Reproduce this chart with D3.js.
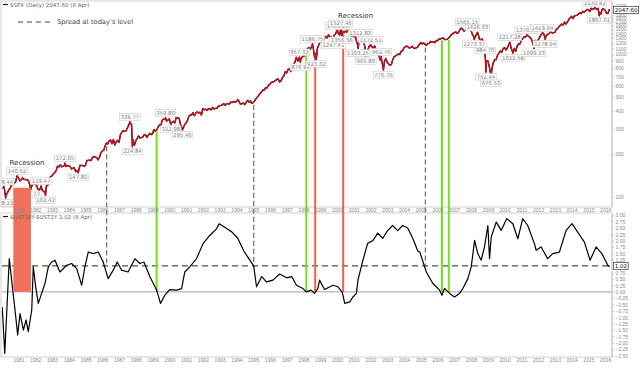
<!DOCTYPE html>
<html>
<head>
<meta charset="utf-8">
<title>SPX and the yield curve</title>
<style>
  body { margin: 0; background: #fff; }
  svg { display: block; font-family: "DejaVu Sans", "Liberation Sans", sans-serif; }
  .frame { fill: none; stroke: #cfcfcf; stroke-width: 1; }
  .axis text { fill: #8a8a8a; font-size: 5px; }
  .axis path, .axis line { stroke: #c8c8c8; }
  .tag rect { fill: #fff; stroke: #c9c9c9; stroke-width: 0.6; }
  .tag text { fill: #7a7a7a; font-size: 5.3px; }
  .legend { fill: #666; font-size: 5.5px; }
  .note { fill: #333; font-size: 7px; }
</style>
</head>
<body>
<svg id="chart" width="640" height="369"></svg>
<script src="https://d3js.org/d3.v7.min.js"></script>
<script>
// S&P 500 month-end closes, starting Jan 1980
var spx1980s = [
  114.16, 113.66, 102.09, 106.29, 111.24, 114.24, 121.67, 122.38, 125.46, 127.47, 140.52, 135.76,
  129.55, 131.27, 136.00, 132.81, 132.59, 131.21, 130.92, 122.79, 116.18, 121.89, 126.35, 122.55,
  120.40, 113.11, 111.96, 116.44, 111.88, 109.61, 107.09, 119.51, 120.42, 133.71, 138.54, 140.64,
  145.30, 148.06, 152.96, 164.42, 162.39, 168.11, 162.56, 164.40, 166.07, 163.55, 166.40, 164.93,
  163.41, 157.06, 159.18, 160.05, 150.55, 153.18, 150.66, 166.68, 166.10, 166.09, 163.58, 167.24,
  179.63, 181.18, 180.66, 179.83, 189.55, 191.85, 190.92, 188.63, 182.08, 189.82, 202.17, 211.28,
  211.78, 226.92, 238.90, 235.52, 247.35, 250.84, 236.12, 252.93, 231.32, 243.98, 249.22, 242.17,
  274.08, 284.20, 291.70, 288.36, 290.10, 304.00, 318.66, 329.80, 321.83, 251.79, 230.30, 247.08,
  257.07, 267.82, 258.89, 261.33, 262.16, 273.50, 272.02, 261.52, 271.91, 278.97, 273.70, 277.72,
  297.47, 288.86, 294.87, 309.64, 320.52, 317.98, 346.08, 351.45, 349.15, 340.36, 345.99, 353.40
];
var spx1990s = [
  329.08, 331.89, 339.94, 330.80, 361.23, 358.02, 356.15, 322.56, 306.05, 304.00, 322.22, 330.22,
  343.93, 367.07, 375.22, 375.34, 389.83, 371.16, 387.81, 395.43, 387.86, 392.46, 375.22, 417.09,
  408.79, 412.70, 403.69, 414.95, 415.35, 408.14, 424.21, 414.03, 417.80, 418.68, 431.35, 435.71,
  438.78, 443.38, 451.67, 440.19, 450.19, 450.53, 448.13, 463.56, 458.93, 467.83, 461.79, 466.45,
  481.61, 467.14, 445.77, 450.91, 456.50, 444.27, 458.26, 475.49, 462.69, 472.35, 453.69, 459.27,
  470.42, 487.39, 500.71, 514.71, 533.40, 544.75, 562.06, 561.88, 584.41, 581.50, 605.37, 615.93,
  636.02, 640.43, 645.50, 654.17, 669.12, 670.63, 639.95, 651.99, 687.31, 705.27, 757.02, 740.74,
  786.16, 790.82, 757.12, 801.34, 848.28, 885.14, 954.29, 899.47, 947.28, 914.62, 955.40, 970.43,
  980.28, 1049.34, 1101.75, 1111.75, 1090.82, 1133.84, 1120.67, 957.28, 1017.01, 1098.67, 1163.63, 1229.23,
  1279.64, 1238.33, 1286.37, 1335.18, 1301.84, 1372.71, 1328.72, 1320.41, 1282.71, 1362.93, 1388.91, 1469.25
];
var spx2000s = [
  1394.46, 1366.42, 1498.58, 1452.43, 1420.60, 1454.60, 1430.83, 1517.68, 1436.51, 1429.40, 1314.95, 1320.28,
  1366.01, 1239.94, 1160.33, 1249.46, 1255.82, 1224.42, 1211.23, 1133.58, 1040.94, 1059.78, 1139.45, 1148.08,
  1130.20, 1106.73, 1147.39, 1076.92, 1067.14, 989.82, 911.62, 916.07, 815.28, 885.76, 936.31, 879.82,
  855.70, 841.15, 848.18, 916.92, 963.59, 974.50, 990.31, 1008.01, 995.97, 1050.71, 1058.20, 1111.92,
  1131.13, 1144.94, 1126.21, 1107.30, 1120.68, 1140.84, 1101.72, 1104.24, 1114.58, 1130.20, 1173.82, 1211.92,
  1181.27, 1203.60, 1180.59, 1156.85, 1191.50, 1191.33, 1234.18, 1220.33, 1228.81, 1207.01, 1249.48, 1248.29,
  1280.08, 1280.66, 1294.83, 1310.61, 1270.09, 1270.20, 1276.66, 1303.82, 1335.85, 1377.94, 1400.63, 1418.30,
  1438.24, 1406.82, 1420.86, 1482.37, 1530.62, 1503.35, 1455.27, 1473.99, 1526.75, 1549.38, 1481.14, 1468.36,
  1378.55, 1330.63, 1322.70, 1385.59, 1400.38, 1280.00, 1267.38, 1282.83, 1166.36, 968.75, 896.24, 903.25,
  825.88, 735.09, 797.87, 872.81, 919.14, 919.32, 987.48, 1020.62, 1057.08, 1036.19, 1095.63, 1115.10
];
var spx2010s = [
  1073.87, 1104.49, 1169.43, 1186.69, 1089.41, 1030.71, 1101.60, 1049.33, 1141.20, 1183.26, 1180.55, 1257.64,
  1286.12, 1327.22, 1325.83, 1363.61, 1345.20, 1320.64, 1292.28, 1218.89, 1131.42, 1253.30, 1246.96, 1257.60,
  1312.41, 1365.68, 1408.47, 1397.91, 1310.33, 1362.16, 1379.32, 1406.58, 1440.67, 1412.16, 1416.18, 1426.19,
  1498.11, 1514.68, 1569.19, 1597.57, 1630.74, 1606.28, 1685.73, 1632.97, 1681.55, 1756.54, 1805.81, 1848.36,
  1782.59, 1859.45, 1872.34, 1883.95, 1923.57, 1960.23, 1930.67, 2003.37, 1972.29, 2018.05, 2067.56, 2058.90,
  1994.99, 2104.50, 2067.89, 2085.51, 2107.39, 2063.11, 2103.84, 1972.18, 1920.03, 2079.36, 2080.41, 2043.94,
  1940.24, 1932.23, 2059.74
];
var spxLastDate = "2016-04-08", spxLast = 2047.60;

// labelled highs (1) and lows (-1)
var spxPivots = [
  ["1980-02-13", 118.44, 1], ["1980-03-27", 98.22, -1], ["1980-11-28", 140.52, 1],
  ["1981-09-25", 112.77, -1], ["1982-05-07", 119.47, 1], ["1982-08-12", 102.42, -1],
  ["1983-10-10", 172.65, 1], ["1984-07-24", 147.82, -1], ["1987-08-25", 336.77, 1],
  ["1987-10-19", 224.84, -1], ["1989-10-09", 359.80, 1], ["1990-01-30", 322.98, -1],
  ["1990-10-11", 295.46, -1], ["1997-10-07", 957.32, 1], ["1997-10-27", 876.99, -1],
  ["1998-07-17", 1186.75, 1], ["1998-10-08", 923.32, -1], ["1999-10-15", 1247.41, -1],
  ["2000-01-14", 1465.15, 1], ["2000-03-24", 1527.46, 1], ["2000-04-14", 1356.56, -1],
  ["2001-04-04", 1103.25, -1], ["2001-05-21", 1312.83, 1], ["2001-09-21", 965.80, -1],
  ["2002-01-04", 1172.51, 1], ["2002-08-22", 962.70, 1], ["2002-10-09", 776.76, -1],
  ["2007-10-09", 1565.15, 1], ["2008-03-10", 1273.37, -1], ["2008-05-19", 1426.63, 1],
  ["2008-11-04", 984.70, 1], ["2008-11-20", 752.44, -1], ["2009-03-09", 676.53, -1],
  ["2010-04-23", 1217.28, 1], ["2010-07-02", 1022.58, -1], ["2011-05-02", 1370.58, 1],
  ["2011-10-03", 1099.23, -1], ["2012-04-02", 1419.04, 1], ["2012-06-01", 1278.04, -1],
  ["2015-05-21", 2130.82, 1], ["2015-08-25", 1867.61, -1]
];

// 10y - 2y treasury spread (fractional years)
var spreadYears = [
  1980.03, 1980.18, 1980.45, 1980.59, 1980.79, 1980.95, 1981.09, 1981.29, 1981.45, 1981.58,
  1981.79, 1981.88, 1982.04, 1982.18, 1982.38, 1982.58, 1982.78, 1982.98, 1983.18, 1983.47,
  1983.87, 1984.17, 1984.47, 1984.77, 1984.96, 1985.16, 1985.46, 1985.76, 1986.05, 1986.35,
  1986.65, 1986.89, 1987.15, 1987.54, 1987.94, 1988.24, 1988.48, 1988.84, 1989.24, 1989.47,
  1989.73, 1990.02, 1990.43, 1990.73, 1990.92, 1991.22, 1991.62, 1992.01, 1992.41, 1992.81,
  1992.97, 1993.37, 1993.72, 1994.08, 1994.44, 1994.74, 1995.03, 1995.20, 1995.51, 1995.79,
  1996.18, 1996.58, 1997.00, 1997.30, 1997.58, 1997.97, 1998.17, 1998.46, 1998.66, 1998.86,
  1998.96, 1999.26, 1999.76, 2000.06, 2000.32, 2000.46, 2000.76, 2000.95, 2001.16, 2001.25,
  2001.53, 2001.83, 2002.13, 2002.43, 2002.73, 2003.02, 2003.32, 2003.62, 2003.92, 2004.22,
  2004.52, 2004.82, 2004.94, 2005.33, 2005.72, 2006.12, 2006.26, 2006.42, 2006.72, 2007.01,
  2007.31, 2007.51, 2007.81, 2008.01, 2008.21, 2008.40, 2008.60, 2008.80, 2009.00, 2009.10,
  2009.20, 2009.50, 2009.80, 2010.13, 2010.49, 2010.79, 2011.08, 2011.38, 2011.78, 2011.88,
  2012.18, 2012.57, 2012.87, 2013.27, 2013.67, 2014.02, 2014.36, 2014.76, 2015.10, 2015.46,
  2015.80, 2016.19, 2016.27
];
var spreadValues = [
  -0.59, -2.41, 1.30, 0.46, -0.71, -1.69, -0.85, -1.50, -1.10, -1.56,
  -0.71, 0.98, 0.13, -0.45, -0.06, 0.33, 0.98, 1.17, 1.24, 0.78,
  1.04, 1.11, 0.91, 0.26, 0.98, 1.56, 1.50, 1.56, 1.17, 0.52,
  0.85, 1.17, 0.85, 0.78, 1.30, 1.11, 1.17, 0.59, 0.07, -0.45,
  -0.13, 0.09, 0.07, 0.13, 0.78, 0.98, 1.30, 1.89, 2.21, 2.47,
  2.67, 2.50, 2.35, 2.10, 1.60, 1.30, 1.02, 0.20, 0.60, 0.39,
  0.46, 0.70, 0.55, 0.60, 0.26, 0.13, 0.00, 0.07, -0.06, 0.13,
  0.46, 0.09, 0.26, 0.20, -0.02, -0.45, -0.39, -0.20, -0.06, 0.46,
  1.20, 1.90, 2.00, 2.30, 2.10, 2.40, 2.60, 2.40, 2.60, 2.50,
  2.10, 1.60, 1.56, 0.78, 0.33, 0.07, -0.13, 0.14, -0.06, -0.20,
  -0.06, 0.13, 0.52, 0.98, 2.02, 1.50, 1.24, 1.76, 2.60, 1.30,
  2.15, 2.73, 2.41, 2.87, 2.67, 2.08, 2.87, 2.60, 1.89, 1.63,
  1.76, 1.30, 1.50, 1.56, 2.41, 2.67, 2.34, 1.95, 1.24, 1.76,
  1.50, 1.00, 1.02
];
var spreadNow = 1.02;

// marked dates (fractional years)
var levelDates = [1986.26, 1995.03, 2005.27];          // spread back at today's level
var greenDates = [1989.24, 1998.17, 2006.26, 2006.67];  // curve flat
var redDates = [1998.70, 2000.37];
var recessionBox = [1980.69, 1981.74, 116];
var recessionNotes = [[1981.51, 175], [2001.11, 1880]];

// tick labels; 2000 and 1.00 sit under the last-value boxes
var spxTicks = [100, 200, 300, 400, 500, 600, 700, 800, 900, 1000,
                1100, 1200, 1300, 1400, 1500, 1600, 1700, 1800, 1900, 2200];
var spreadTicks = [-2.5, -2.25, -2, -1.75, -1.5, -1.25, -1, -0.75, -0.5, -0.25, 0,
                   0.25, 0.5, 0.75, 1.25, 1.5, 1.75, 2, 2.25, 2.5, 2.75, 3];

// panel geometry
var L = 2, R = 612,
    topT = 2, topB = 207,
    botT = 214, botB = 357;

function yearToDate(y) {
  var yr = Math.floor(y),
      d0 = new Date(yr, 0, 1), d1 = new Date(yr + 1, 0, 1);
  return new Date(+d0 + (y - yr) * (d1 - d0));
}
var parse = d3.timeParse("%Y-%m-%d");

// build the price series: month-end closes plus the labelled pivots
var monthly = spx1980s.concat(spx1990s, spx2000s, spx2010s);
var spx = monthly.map(function(v, i) {
  return {date: new Date(1980, i + 1, 0), value: v};
});
spxPivots.forEach(function(p) { spx.push({date: parse(p[0]), value: p[1]}); });
spx.push({date: parse(spxLastDate), value: spxLast});
spx.sort(function(a, b) { return a.date - b.date; });

var spread = spreadYears.map(function(y, i) {
  return {date: yearToDate(y), value: spreadValues[i]};
});

var x = d3.scaleTime()
    .domain([new Date(1980, 0, 7), new Date(2016, 4, 29)])
    .range([L, R]);
var yTop = d3.scaleLog().domain([85, 2330]).range([topB, topT]);
var yBot = d3.scaleLinear().domain([-2.55, 3.05]).range([botB, botT]);

var bisect = d3.bisector(function(d) { return d.date; }).left;
function spxAt(date) {
  var i = bisect(spx, date);
  if (i <= 0) return spx[0].value;
  if (i >= spx.length) return spx[spx.length - 1].value;
  var a = spx[i - 1], b = spx[i], t = (date - a.date) / (b.date - a.date);
  return a.value + t * (b.value - a.value);
}

var svg = d3.select("#chart");
var defs = svg.append("defs");
defs.append("clipPath").attr("id", "clipTop")
  .append("rect").attr("x", L).attr("y", topT).attr("width", R - L).attr("height", topB - topT);
defs.append("clipPath").attr("id", "clipBot")
  .append("rect").attr("x", L).attr("y", botT).attr("width", R - L).attr("height", botB - botT);

// panel frames
svg.append("rect").attr("class", "frame")
    .attr("x", L - 1).attr("y", topT - 1).attr("width", R - L + 1).attr("height", topB - topT + 1);
svg.append("rect").attr("class", "frame")
    .attr("x", L - 1).attr("y", botT - 1).attr("width", R - L + 1).attr("height", botB - botT + 1);

// reference lines in the lower panel
svg.append("line")
    .attr("x1", L).attr("x2", R)
    .attr("y1", yBot(0)).attr("y2", yBot(0))
    .attr("stroke", "#9c9cc8").attr("stroke-width", 1);
svg.append("line")
    .attr("x1", L).attr("x2", R)
    .attr("y1", yBot(spreadNow)).attr("y2", yBot(spreadNow))
    .attr("stroke", "#3e5f2c").attr("stroke-width", 1.2)
    .attr("stroke-dasharray", "6,4");

// vertical markers, from the price line down to the spread panel
svg.selectAll("line.level")
  .data(levelDates)
  .enter().append("line")
    .attr("class", "level")
    .attr("x1", function(d) { return x(yearToDate(d)); })
    .attr("x2", function(d) { return x(yearToDate(d)); })
    .attr("y1", function(d) { return yTop(spxAt(yearToDate(d))) + 3; })
    .attr("y2", yBot(spreadNow))
    .attr("stroke", "#6b7362").attr("stroke-width", 1.2)
    .attr("stroke-dasharray", "5,3");

function marker(dates, color, cls) {
  svg.selectAll("line." + cls)
    .data(dates)
    .enter().append("line")
      .attr("class", cls)
      .attr("x1", function(d) { return x(yearToDate(d)); })
      .attr("x2", function(d) { return x(yearToDate(d)); })
      .attr("y1", function(d) { return yTop(spxAt(yearToDate(d))) + 2; })
      .attr("y2", yBot(0))
      .attr("stroke", color).attr("stroke-width", 2);
}
marker(greenDates, "#72e01a", "green");
marker(redDates, "#f0604c", "red");

// price line
var priceLine = d3.line()
    .x(function(d) { return x(d.date); })
    .y(function(d) { return yTop(d.value); });
var topG = svg.append("g").attr("clip-path", "url(#clipTop)");
topG.append("path").datum(spx)
    .attr("d", priceLine)
    .attr("fill", "none").attr("stroke", "#111").attr("stroke-width", 1.5)
    .attr("stroke-linejoin", "round");
topG.append("path").datum(spx)
    .attr("d", priceLine)
    .attr("fill", "none").attr("stroke", "#dc0d1c").attr("stroke-width", 1.1)
    .attr("stroke-linejoin", "round");

// spread line
var spreadLine = d3.line()
    .x(function(d) { return x(d.date); })
    .y(function(d) { return yBot(d.value); });
svg.append("g").attr("clip-path", "url(#clipBot)")
  .append("path").datum(spread)
    .attr("d", spreadLine)
    .attr("fill", "none").attr("stroke", "#000").attr("stroke-width", 1.2)
    .attr("stroke-linejoin", "round");

// value tags on highs and lows
var tags = topG.selectAll("g.tag")
  .data(spxPivots)
  .enter().append("g")
    .attr("class", "tag")
    .attr("transform", function(d) {
      return "translate(" + x(parse(d[0])) + "," + (yTop(d[1]) - d[2] * 4.8) + ")";
    });
tags.append("rect");
tags.append("text")
    .attr("text-anchor", "middle")
    .attr("dy", "0.35em")
    .text(function(d) { return d[1].toFixed(2); });
tags.each(function() {
  var g = d3.select(this),
      w = g.select("text").node().getComputedTextLength() + 2;
  g.select("rect").attr("x", -w / 2).attr("y", -3.3).attr("width", w).attr("height", 6.6);
});

// recession block over 1980-81
svg.append("rect")
    .attr("x", x(yearToDate(recessionBox[0])))
    .attr("width", x(yearToDate(recessionBox[1])) - x(yearToDate(recessionBox[0])))
    .attr("y", yTop(recessionBox[2]))
    .attr("height", yBot(0) - yTop(recessionBox[2]))
    .attr("fill", "#f0705a");

svg.selectAll("text.note")
  .data(recessionNotes)
  .enter().append("text")
    .attr("class", "note")
    .attr("text-anchor", "middle")
    .attr("dy", "0.35em")
    .attr("x", function(d) { return x(yearToDate(d[0])); })
    .attr("y", function(d) { return yTop(d[1]); })
    .text("Recession");

// year axes under each panel
var yearAxis = d3.axisBottom(x)
    .ticks(d3.timeYear.every(1))
    .tickFormat(d3.timeFormat("%Y"))
    .tickSize(0).tickPadding(0);
svg.append("g").attr("class", "axis")
    .attr("transform", "translate(0," + (topB + 1.5) + ")")
    .call(yearAxis)
    .call(function(g) { g.select(".domain").remove(); });
svg.append("g").attr("class", "axis")
    .attr("transform", "translate(0," + (botB + 1.5) + ")")
    .call(yearAxis)
    .call(function(g) { g.select(".domain").remove(); });

// price and spread axes on the right
svg.append("g").attr("class", "axis")
    .attr("transform", "translate(" + R + ",0)")
    .call(d3.axisRight(yTop).tickValues(spxTicks).tickFormat(d3.format("d")).tickSize(2).tickPadding(1.5))
    .call(function(g) { g.select(".domain").attr("d", "M0," + topT + "V" + topB); });
svg.append("g").attr("class", "axis")
    .attr("transform", "translate(" + R + ",0)")
    .call(d3.axisRight(yBot).tickValues(spreadTicks).tickFormat(d3.format(".2f")).tickSize(2).tickPadding(1.5))
    .call(function(g) { g.select(".domain").attr("d", "M0," + botT + "V" + botB); });

// last value boxes
function lastBox(y, txt) {
  var g = svg.append("g").attr("transform", "translate(" + (R + 1.5) + "," + y + ")");
  var r = g.append("rect").attr("fill", "#fff").attr("stroke", "#333").attr("stroke-width", 0.7);
  var t = g.append("text").attr("x", 1.2).attr("dy", "0.35em")
      .attr("fill", "#111").attr("font-size", "5.5px").text(txt);
  var w = t.node().getComputedTextLength() + 2.4;
  r.attr("y", -3.5).attr("width", w).attr("height", 7);
}
lastBox(yTop(spxLast), spxLast.toFixed(2));
lastBox(yBot(spreadNow), spreadNow.toFixed(2));

// legends
svg.append("line").attr("x1", 3).attr("x2", 8).attr("y1", 4.5).attr("y2", 4.5)
    .attr("stroke", "#111").attr("stroke-width", 1.2);
svg.append("text").attr("class", "legend").attr("x", 10).attr("y", 6.5)
    .text("$SPX (Daily) 2047.60 (8 Apr)");

svg.append("line").attr("x1", 18).attr("x2", 50).attr("y1", 22).attr("y2", 22)
    .attr("stroke", "#444").attr("stroke-width", 1.1).attr("stroke-dasharray", "5,4");
svg.append("text").attr("x", 57).attr("y", 24.3)
    .attr("fill", "#444").attr("font-size", "6.6px")
    .text("Spread at today\u2019s level");

svg.append("line").attr("x1", 3).attr("x2", 8).attr("y1", botT + 2.5).attr("y2", botT + 2.5)
    .attr("stroke", "#111").attr("stroke-width", 1.2);
svg.append("text").attr("class", "legend").attr("x", 10).attr("y", botT + 4.5)
    .text("$UST10Y-$UST2Y 1.02 (8 Apr)");
</script>
</body>
</html>
